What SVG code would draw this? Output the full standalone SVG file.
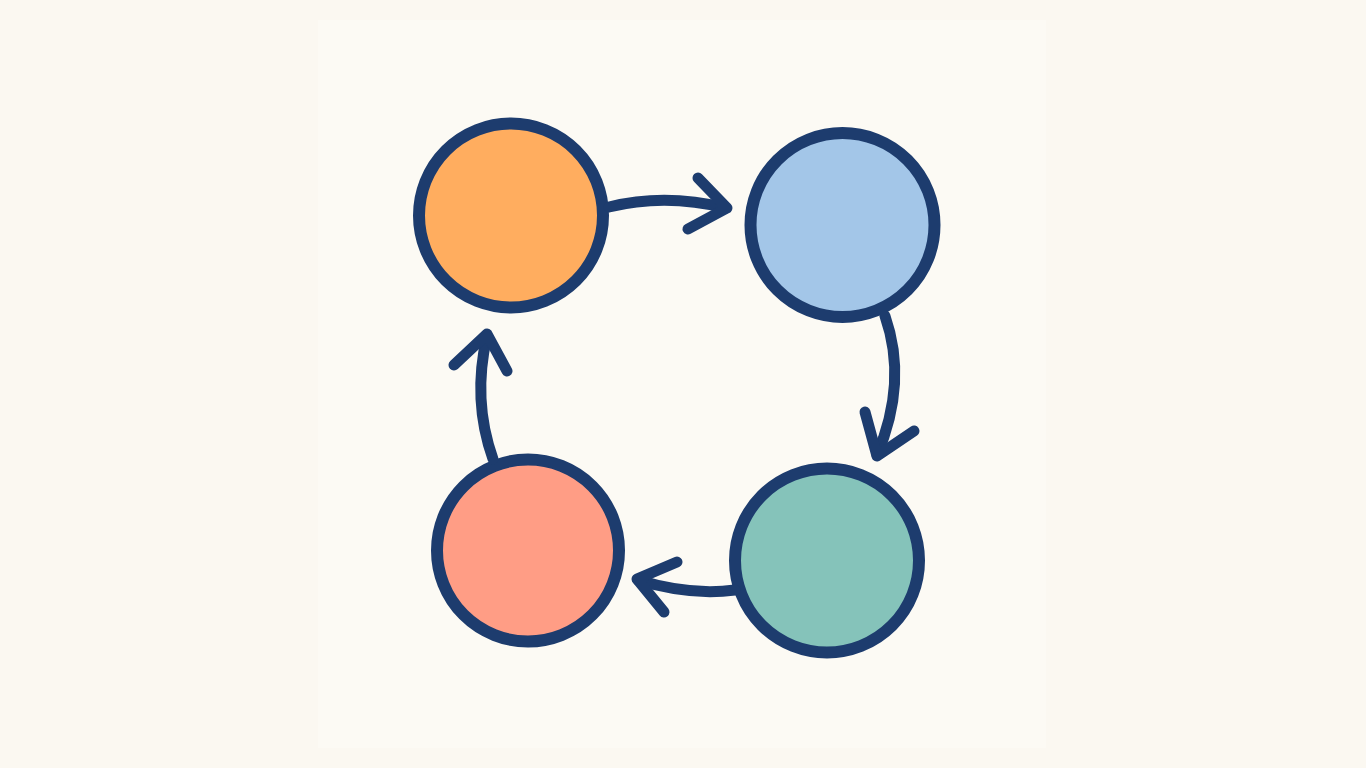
<svg xmlns="http://www.w3.org/2000/svg" width="1366" height="768" viewBox="0 0 1366 768">
<style>
.node{stroke:#1D3C6E;stroke-width:12}
.conn path{fill:none;stroke:#1D3C6E;stroke-width:11;stroke-linecap:round;stroke-linejoin:round}
</style>
<rect width="1366" height="768" fill="#FBF8F1"/>
<rect x="318" y="20" width="728" height="728" fill="#FCFAF4"/>
<g id="node-orange"><circle class="node" cx="511" cy="215.5" r="92" fill="#FFAD5F"/></g>
<g id="node-blue"><circle class="node" cx="842.5" cy="225" r="92" fill="#A3C6E8"/></g>
<g id="node-teal"><circle class="node" cx="827" cy="560.5" r="92" fill="#85C3BA"/></g>
<g id="node-red"><circle class="node" cx="528" cy="550.5" r="91" fill="#FF9D85"/></g>
<g id="connectors" class="conn">
<path d="M609,207 Q665,193 726,208"/>
<path d="M698,178 L727,208 L688,229"/>
<path d="M885,316 Q908,382 877,455"/>
<path d="M865,412 L877,456 L914,431"/>
<path d="M735,590 Q690,596 638,580"/>
<path d="M677,562 L637,579 L664,612"/>
<path d="M493,459 Q472,400 487,336"/>
<path d="M454,365 L487,334 L507,371"/>
</g>
</svg>
